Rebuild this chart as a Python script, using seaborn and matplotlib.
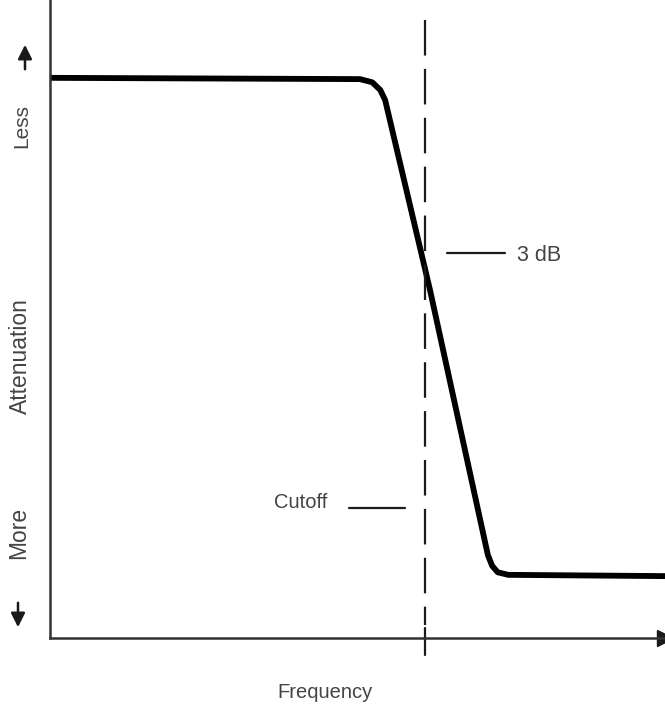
import matplotlib
matplotlib.use("Agg")
import matplotlib.pyplot as plt
import seaborn as sns
import pandas as pd

# Response curve of a low-pass filter (relative units, 0-100 on both axes)
frequency = [0, 50.4, 52.4, 53.7, 54.5, 61.8, 71.2, 71.9, 72.8, 74.5, 100]
attenuation = [87.8, 87.6, 87.1, 85.9, 84.3, 54.5, 13.0, 11.3, 10.3, 9.9, 9.7]
cutoff_freq = 61.0
y_labels = ["Less", "Attenuation", "More"]

sns.set_style("white")
plt.rcParams["font.family"] = ["Liberation Sans", "DejaVu Sans"]

ink = "#1a1a1a"
txt = "#444444"

fig = plt.figure(figsize=(6.65, 7.07), dpi=100)
ax = fig.add_axes([50 / 665, 69 / 707, 615 / 665, 638 / 707])

df = pd.DataFrame({"freq": frequency, "atten": attenuation})
sns.lineplot(data=df, x="freq", y="atten", ax=ax, color="black", lw=4.2,
             solid_joinstyle="round", solid_capstyle="butt", sort=False)

# cutoff dashed marker, drawn top-down, plus a little tick across the axis
ax.plot([cutoff_freq, cutoff_freq], [96.9, 2.0], color=ink, lw=1.6,
        dashes=(16, 6), clip_on=False)
ax.plot([cutoff_freq, cutoff_freq], [1.6, -2.7], color=ink, lw=1.6,
        clip_on=False)

# leader lines + labels
ax.plot([64.6, 74.0], [60.3, 60.3], color=ink, lw=1.6)
ax.text(75.9, 60.0, "3 dB", fontsize=15.5, color=txt, va="center", ha="left")
ax.plot([48.6, 57.7], [20.4, 20.4], color=ink, lw=1.6)
ax.text(40.7, 21.3, "Cutoff", fontsize=14.5, color=txt, va="center", ha="center")

ax.set_xlim(0, 100)
ax.set_ylim(0, 100)
ax.set_xticks([])
ax.set_yticks([])
ax.set_xlabel("")
ax.set_ylabel("")
sns.despine(ax=ax)
for s in ["left", "bottom"]:
    ax.spines[s].set_color("#333333")
    ax.spines[s].set_linewidth(1.8)
ax.plot([100], [0], marker=">", color=ink, markersize=11, clip_on=False)

# y-axis words and arrows
fig.text(22 / 665, 1 - 126 / 707, y_labels[0], rotation=90, fontsize=15,
         color=txt, ha="center", va="center")
fig.text(20 / 665, 1 - 356 / 707, y_labels[1], rotation=90, fontsize=16.5,
         color=txt, ha="center", va="center")
fig.text(19 / 665, 1 - 533 / 707, y_labels[2], rotation=90, fontsize=16.5,
         color=txt, ha="center", va="center")
fig.text(325 / 665, 1 - 692 / 707, "Frequency", fontsize=14.5, color=txt,
         ha="center", va="center")

arrow = dict(arrowstyle="-|>,head_length=0.6,head_width=0.3", color=ink, lw=1.8)
fig.add_artist(matplotlib.patches.FancyArrowPatch(
    (25 / 665, 1 - 72 / 707), (25 / 665, 1 - 42 / 707),
    transform=fig.transFigure, mutation_scale=14, **arrow))
fig.add_artist(matplotlib.patches.FancyArrowPatch(
    (18 / 665, 1 - 600 / 707), (18 / 665, 1 - 630 / 707),
    transform=fig.transFigure, mutation_scale=14, **arrow))

fig.savefig("out.png", dpi=100, facecolor="white")
